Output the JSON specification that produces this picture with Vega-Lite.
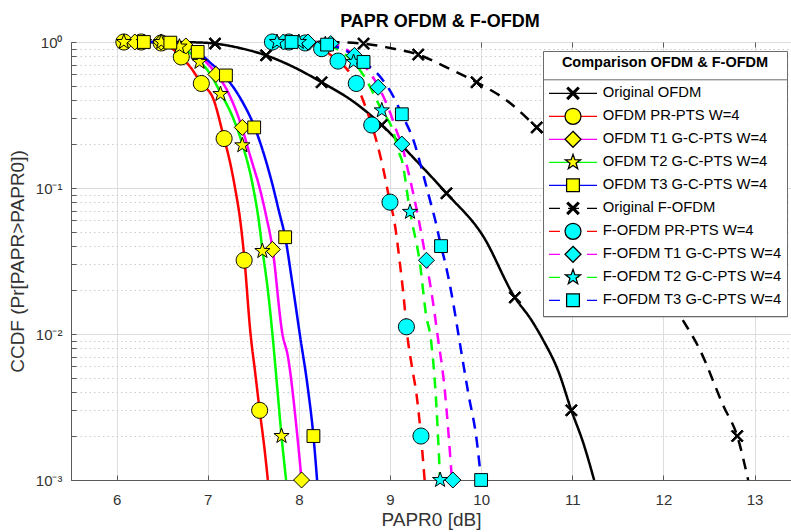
{
  "$schema": "https://vega.github.io/schema/vega-lite/v6.json",
  "width": 720,
  "height": 438,
  "autosize": {"type": "none"},
  "padding": {"left": 71, "top": 42, "right": 0, "bottom": 52},
  "background": "white",
  "config": {
    "font": "Liberation Sans",
    "view": {"stroke": "#5a5a5a", "strokeWidth": 1}
  },
  "title": {
    "text": "PAPR OFDM & F-OFDM",
    "fontSize": 18,
    "fontWeight": "bold",
    "color": "#000000",
    "offset": 1,
    "dx": 9
  },
  "datasets": {
    "lines": [
      {"s": "Original OFDM", "x": 6.05, "y": 1},
      {"s": "Original OFDM", "x": 6.6, "y": 0.999},
      {"s": "Original OFDM", "x": 6.9, "y": 0.993},
      {"s": "Original OFDM", "x": 7.08, "y": 0.975},
      {"s": "Original OFDM", "x": 7.35, "y": 0.91},
      {"s": "Original OFDM", "x": 7.64, "y": 0.81},
      {"s": "Original OFDM", "x": 7.95, "y": 0.67},
      {"s": "Original OFDM", "x": 8.25, "y": 0.53},
      {"s": "Original OFDM", "x": 8.6, "y": 0.39},
      {"s": "Original OFDM", "x": 8.91, "y": 0.27},
      {"s": "Original OFDM", "x": 9.25, "y": 0.163},
      {"s": "Original OFDM", "x": 9.62, "y": 0.092},
      {"s": "Original OFDM", "x": 10.02, "y": 0.047},
      {"s": "Original OFDM", "x": 10.37, "y": 0.0178},
      {"s": "Original OFDM", "x": 10.55, "y": 0.0125},
      {"s": "Original OFDM", "x": 10.68, "y": 0.0091},
      {"s": "Original OFDM", "x": 10.85, "y": 0.0055},
      {"s": "Original OFDM", "x": 10.99, "y": 0.003},
      {"s": "Original OFDM", "x": 11.12, "y": 0.0018},
      {"s": "Original OFDM", "x": 11.24, "y": 0.001},

      {"s": "OFDM PR-PTS W=4", "x": 6.05, "y": 1},
      {"s": "OFDM PR-PTS W=4", "x": 6.3, "y": 1},
      {"s": "OFDM PR-PTS W=4", "x": 6.49, "y": 0.985},
      {"s": "OFDM PR-PTS W=4", "x": 6.6, "y": 0.91},
      {"s": "OFDM PR-PTS W=4", "x": 6.71, "y": 0.79},
      {"s": "OFDM PR-PTS W=4", "x": 6.82, "y": 0.66},
      {"s": "OFDM PR-PTS W=4", "x": 6.93, "y": 0.52},
      {"s": "OFDM PR-PTS W=4", "x": 7.06, "y": 0.41},
      {"s": "OFDM PR-PTS W=4", "x": 7.18, "y": 0.218},
      {"s": "OFDM PR-PTS W=4", "x": 7.24, "y": 0.155},
      {"s": "OFDM PR-PTS W=4", "x": 7.3, "y": 0.1},
      {"s": "OFDM PR-PTS W=4", "x": 7.36, "y": 0.058},
      {"s": "OFDM PR-PTS W=4", "x": 7.4, "y": 0.034},
      {"s": "OFDM PR-PTS W=4", "x": 7.47, "y": 0.01},
      {"s": "OFDM PR-PTS W=4", "x": 7.52, "y": 0.0055},
      {"s": "OFDM PR-PTS W=4", "x": 7.57, "y": 0.003},
      {"s": "OFDM PR-PTS W=4", "x": 7.62, "y": 0.0017},
      {"s": "OFDM PR-PTS W=4", "x": 7.66, "y": 0.001},

      {"s": "OFDM T1 G-C-PTS W=4", "x": 6.05, "y": 1},
      {"s": "OFDM T1 G-C-PTS W=4", "x": 6.49, "y": 0.995},
      {"s": "OFDM T1 G-C-PTS W=4", "x": 6.76, "y": 0.94},
      {"s": "OFDM T1 G-C-PTS W=4", "x": 6.99, "y": 0.72},
      {"s": "OFDM T1 G-C-PTS W=4", "x": 7.09, "y": 0.61},
      {"s": "OFDM T1 G-C-PTS W=4", "x": 7.21, "y": 0.47},
      {"s": "OFDM T1 G-C-PTS W=4", "x": 7.35, "y": 0.29},
      {"s": "OFDM T1 G-C-PTS W=4", "x": 7.48, "y": 0.155},
      {"s": "OFDM T1 G-C-PTS W=4", "x": 7.57, "y": 0.1},
      {"s": "OFDM T1 G-C-PTS W=4", "x": 7.64, "y": 0.065},
      {"s": "OFDM T1 G-C-PTS W=4", "x": 7.71, "y": 0.039},
      {"s": "OFDM T1 G-C-PTS W=4", "x": 7.82, "y": 0.01},
      {"s": "OFDM T1 G-C-PTS W=4", "x": 7.88, "y": 0.007},
      {"s": "OFDM T1 G-C-PTS W=4", "x": 7.98, "y": 0.0021},
      {"s": "OFDM T1 G-C-PTS W=4", "x": 8.03, "y": 0.001},

      {"s": "OFDM T2 G-C-PTS W=4", "x": 6.05, "y": 1},
      {"s": "OFDM T2 G-C-PTS W=4", "x": 6.49, "y": 0.995},
      {"s": "OFDM T2 G-C-PTS W=4", "x": 6.69, "y": 0.93},
      {"s": "OFDM T2 G-C-PTS W=4", "x": 6.91, "y": 0.74},
      {"s": "OFDM T2 G-C-PTS W=4", "x": 7.03, "y": 0.6},
      {"s": "OFDM T2 G-C-PTS W=4", "x": 7.14, "y": 0.45},
      {"s": "OFDM T2 G-C-PTS W=4", "x": 7.28, "y": 0.3},
      {"s": "OFDM T2 G-C-PTS W=4", "x": 7.38, "y": 0.2},
      {"s": "OFDM T2 G-C-PTS W=4", "x": 7.5, "y": 0.1},
      {"s": "OFDM T2 G-C-PTS W=4", "x": 7.56, "y": 0.06},
      {"s": "OFDM T2 G-C-PTS W=4", "x": 7.6, "y": 0.038},
      {"s": "OFDM T2 G-C-PTS W=4", "x": 7.66, "y": 0.02},
      {"s": "OFDM T2 G-C-PTS W=4", "x": 7.71, "y": 0.01},
      {"s": "OFDM T2 G-C-PTS W=4", "x": 7.76, "y": 0.0045},
      {"s": "OFDM T2 G-C-PTS W=4", "x": 7.81, "y": 0.002},
      {"s": "OFDM T2 G-C-PTS W=4", "x": 7.86, "y": 0.001},

      {"s": "OFDM T3 G-C-PTS W=4", "x": 6.05, "y": 1},
      {"s": "OFDM T3 G-C-PTS W=4", "x": 6.3, "y": 1},
      {"s": "OFDM T3 G-C-PTS W=4", "x": 6.59, "y": 0.99},
      {"s": "OFDM T3 G-C-PTS W=4", "x": 6.75, "y": 0.94},
      {"s": "OFDM T3 G-C-PTS W=4", "x": 6.89, "y": 0.855},
      {"s": "OFDM T3 G-C-PTS W=4", "x": 7.03, "y": 0.72},
      {"s": "OFDM T3 G-C-PTS W=4", "x": 7.2, "y": 0.57},
      {"s": "OFDM T3 G-C-PTS W=4", "x": 7.37, "y": 0.4},
      {"s": "OFDM T3 G-C-PTS W=4", "x": 7.51, "y": 0.265},
      {"s": "OFDM T3 G-C-PTS W=4", "x": 7.63, "y": 0.16},
      {"s": "OFDM T3 G-C-PTS W=4", "x": 7.72, "y": 0.1},
      {"s": "OFDM T3 G-C-PTS W=4", "x": 7.78, "y": 0.07},
      {"s": "OFDM T3 G-C-PTS W=4", "x": 7.85, "y": 0.046},
      {"s": "OFDM T3 G-C-PTS W=4", "x": 7.93, "y": 0.022},
      {"s": "OFDM T3 G-C-PTS W=4", "x": 8.01, "y": 0.01},
      {"s": "OFDM T3 G-C-PTS W=4", "x": 8.1, "y": 0.0042},
      {"s": "OFDM T3 G-C-PTS W=4", "x": 8.16, "y": 0.002},
      {"s": "OFDM T3 G-C-PTS W=4", "x": 8.2, "y": 0.001},

      {"s": "Original F-OFDM", "x": 7.7, "y": 1},
      {"s": "Original F-OFDM", "x": 8.3, "y": 0.999},
      {"s": "Original F-OFDM", "x": 8.71, "y": 0.975},
      {"s": "Original F-OFDM", "x": 9.0, "y": 0.91},
      {"s": "Original F-OFDM", "x": 9.31, "y": 0.82},
      {"s": "Original F-OFDM", "x": 9.62, "y": 0.67},
      {"s": "Original F-OFDM", "x": 9.95, "y": 0.53},
      {"s": "Original F-OFDM", "x": 10.3, "y": 0.39},
      {"s": "Original F-OFDM", "x": 10.61, "y": 0.26},
      {"s": "Original F-OFDM", "x": 10.95, "y": 0.163},
      {"s": "Original F-OFDM", "x": 11.32, "y": 0.092},
      {"s": "Original F-OFDM", "x": 11.72, "y": 0.047},
      {"s": "Original F-OFDM", "x": 12.07, "y": 0.0178},
      {"s": "Original F-OFDM", "x": 12.18, "y": 0.0135},
      {"s": "Original F-OFDM", "x": 12.4, "y": 0.0078},
      {"s": "Original F-OFDM", "x": 12.66, "y": 0.0032},
      {"s": "Original F-OFDM", "x": 12.81, "y": 0.002},
      {"s": "Original F-OFDM", "x": 12.93, "y": 0.001},

      {"s": "F-OFDM PR-PTS W=4", "x": 7.7, "y": 1},
      {"s": "F-OFDM PR-PTS W=4", "x": 7.89, "y": 1},
      {"s": "F-OFDM PR-PTS W=4", "x": 8.07, "y": 0.985},
      {"s": "F-OFDM PR-PTS W=4", "x": 8.25, "y": 0.9},
      {"s": "F-OFDM PR-PTS W=4", "x": 8.43, "y": 0.74},
      {"s": "F-OFDM PR-PTS W=4", "x": 8.52, "y": 0.66},
      {"s": "F-OFDM PR-PTS W=4", "x": 8.63, "y": 0.52},
      {"s": "F-OFDM PR-PTS W=4", "x": 8.71, "y": 0.39},
      {"s": "F-OFDM PR-PTS W=4", "x": 8.8, "y": 0.27},
      {"s": "F-OFDM PR-PTS W=4", "x": 8.87, "y": 0.19},
      {"s": "F-OFDM PR-PTS W=4", "x": 8.93, "y": 0.132},
      {"s": "F-OFDM PR-PTS W=4", "x": 9.0, "y": 0.08},
      {"s": "F-OFDM PR-PTS W=4", "x": 9.04, "y": 0.063},
      {"s": "F-OFDM PR-PTS W=4", "x": 9.11, "y": 0.03},
      {"s": "F-OFDM PR-PTS W=4", "x": 9.16, "y": 0.0155},
      {"s": "F-OFDM PR-PTS W=4", "x": 9.18, "y": 0.0112},
      {"s": "F-OFDM PR-PTS W=4", "x": 9.24, "y": 0.006},
      {"s": "F-OFDM PR-PTS W=4", "x": 9.29, "y": 0.0039},
      {"s": "F-OFDM PR-PTS W=4", "x": 9.34, "y": 0.002},
      {"s": "F-OFDM PR-PTS W=4", "x": 9.38, "y": 0.001},

      {"s": "F-OFDM T1 G-C-PTS W=4", "x": 7.7, "y": 1},
      {"s": "F-OFDM T1 G-C-PTS W=4", "x": 8.1, "y": 1},
      {"s": "F-OFDM T1 G-C-PTS W=4", "x": 8.35, "y": 0.975},
      {"s": "F-OFDM T1 G-C-PTS W=4", "x": 8.61, "y": 0.81},
      {"s": "F-OFDM T1 G-C-PTS W=4", "x": 8.75, "y": 0.65},
      {"s": "F-OFDM T1 G-C-PTS W=4", "x": 8.87, "y": 0.5},
      {"s": "F-OFDM T1 G-C-PTS W=4", "x": 8.93, "y": 0.42},
      {"s": "F-OFDM T1 G-C-PTS W=4", "x": 9.0, "y": 0.33},
      {"s": "F-OFDM T1 G-C-PTS W=4", "x": 9.09, "y": 0.23},
      {"s": "F-OFDM T1 G-C-PTS W=4", "x": 9.13, "y": 0.2},
      {"s": "F-OFDM T1 G-C-PTS W=4", "x": 9.18, "y": 0.147},
      {"s": "F-OFDM T1 G-C-PTS W=4", "x": 9.25, "y": 0.095},
      {"s": "F-OFDM T1 G-C-PTS W=4", "x": 9.31, "y": 0.063},
      {"s": "F-OFDM T1 G-C-PTS W=4", "x": 9.4, "y": 0.031},
      {"s": "F-OFDM T1 G-C-PTS W=4", "x": 9.49, "y": 0.0138},
      {"s": "F-OFDM T1 G-C-PTS W=4", "x": 9.52, "y": 0.01},
      {"s": "F-OFDM T1 G-C-PTS W=4", "x": 9.6, "y": 0.0042},
      {"s": "F-OFDM T1 G-C-PTS W=4", "x": 9.68, "y": 0.001},

      {"s": "F-OFDM T2 G-C-PTS W=4", "x": 7.7, "y": 1},
      {"s": "F-OFDM T2 G-C-PTS W=4", "x": 8.0, "y": 1},
      {"s": "F-OFDM T2 G-C-PTS W=4", "x": 8.29, "y": 0.965},
      {"s": "F-OFDM T2 G-C-PTS W=4", "x": 8.45, "y": 0.87},
      {"s": "F-OFDM T2 G-C-PTS W=4", "x": 8.6, "y": 0.73},
      {"s": "F-OFDM T2 G-C-PTS W=4", "x": 8.74, "y": 0.55},
      {"s": "F-OFDM T2 G-C-PTS W=4", "x": 8.91, "y": 0.34},
      {"s": "F-OFDM T2 G-C-PTS W=4", "x": 9.04, "y": 0.24},
      {"s": "F-OFDM T2 G-C-PTS W=4", "x": 9.09, "y": 0.18},
      {"s": "F-OFDM T2 G-C-PTS W=4", "x": 9.13, "y": 0.155},
      {"s": "F-OFDM T2 G-C-PTS W=4", "x": 9.22, "y": 0.0686},
      {"s": "F-OFDM T2 G-C-PTS W=4", "x": 9.33, "y": 0.03},
      {"s": "F-OFDM T2 G-C-PTS W=4", "x": 9.4, "y": 0.013},
      {"s": "F-OFDM T2 G-C-PTS W=4", "x": 9.44, "y": 0.01},
      {"s": "F-OFDM T2 G-C-PTS W=4", "x": 9.5, "y": 0.004},
      {"s": "F-OFDM T2 G-C-PTS W=4", "x": 9.55, "y": 0.001},

      {"s": "F-OFDM T3 G-C-PTS W=4", "x": 7.7, "y": 1},
      {"s": "F-OFDM T3 G-C-PTS W=4", "x": 7.92, "y": 1},
      {"s": "F-OFDM T3 G-C-PTS W=4", "x": 8.31, "y": 0.96},
      {"s": "F-OFDM T3 G-C-PTS W=4", "x": 8.55, "y": 0.85},
      {"s": "F-OFDM T3 G-C-PTS W=4", "x": 8.71, "y": 0.73},
      {"s": "F-OFDM T3 G-C-PTS W=4", "x": 8.91, "y": 0.56},
      {"s": "F-OFDM T3 G-C-PTS W=4", "x": 9.04, "y": 0.42},
      {"s": "F-OFDM T3 G-C-PTS W=4", "x": 9.13, "y": 0.32},
      {"s": "F-OFDM T3 G-C-PTS W=4", "x": 9.26, "y": 0.21},
      {"s": "F-OFDM T3 G-C-PTS W=4", "x": 9.37, "y": 0.12},
      {"s": "F-OFDM T3 G-C-PTS W=4", "x": 9.44, "y": 0.082},
      {"s": "F-OFDM T3 G-C-PTS W=4", "x": 9.5, "y": 0.059},
      {"s": "F-OFDM T3 G-C-PTS W=4", "x": 9.56, "y": 0.04},
      {"s": "F-OFDM T3 G-C-PTS W=4", "x": 9.61, "y": 0.03},
      {"s": "F-OFDM T3 G-C-PTS W=4", "x": 9.7, "y": 0.0155},
      {"s": "F-OFDM T3 G-C-PTS W=4", "x": 9.75, "y": 0.01},
      {"s": "F-OFDM T3 G-C-PTS W=4", "x": 9.86, "y": 0.0039},
      {"s": "F-OFDM T3 G-C-PTS W=4", "x": 9.95, "y": 0.0019},
      {"s": "F-OFDM T3 G-C-PTS W=4", "x": 10.0, "y": 0.001}
    ],
    "marks": [
      {"s": "Original OFDM", "k": 0, "x": 7.08, "y": 0.975},
      {"s": "Original OFDM", "k": 0, "x": 7.64, "y": 0.81},
      {"s": "Original OFDM", "k": 0, "x": 8.25, "y": 0.53},
      {"s": "Original OFDM", "k": 0, "x": 8.91, "y": 0.27},
      {"s": "Original OFDM", "k": 0, "x": 9.62, "y": 0.092},
      {"s": "Original OFDM", "k": 0, "x": 10.37, "y": 0.0178},
      {"s": "Original OFDM", "k": 0, "x": 10.99, "y": 0.003},

      {"s": "OFDM PR-PTS W=4", "k": 1, "x": 6.08, "y": 1},
      {"s": "OFDM PR-PTS W=4", "k": 1, "x": 6.27, "y": 1},
      {"s": "OFDM PR-PTS W=4", "k": 1, "x": 6.49, "y": 0.985},
      {"s": "OFDM PR-PTS W=4", "k": 1, "x": 6.71, "y": 0.79},
      {"s": "OFDM PR-PTS W=4", "k": 1, "x": 6.93, "y": 0.52},
      {"s": "OFDM PR-PTS W=4", "k": 1, "x": 7.18, "y": 0.218},
      {"s": "OFDM PR-PTS W=4", "k": 1, "x": 7.4, "y": 0.032},
      {"s": "OFDM PR-PTS W=4", "k": 1, "x": 7.57, "y": 0.003},

      {"s": "OFDM T1 G-C-PTS W=4", "k": 2, "x": 6.2, "y": 1},
      {"s": "OFDM T1 G-C-PTS W=4", "k": 2, "x": 6.49, "y": 1},
      {"s": "OFDM T1 G-C-PTS W=4", "k": 2, "x": 6.76, "y": 0.94},
      {"s": "OFDM T1 G-C-PTS W=4", "k": 2, "x": 7.09, "y": 0.6},
      {"s": "OFDM T1 G-C-PTS W=4", "k": 2, "x": 7.38, "y": 0.26},
      {"s": "OFDM T1 G-C-PTS W=4", "k": 2, "x": 7.71, "y": 0.038},
      {"s": "OFDM T1 G-C-PTS W=4", "k": 2, "x": 8.03, "y": 0.001},

      {"s": "OFDM T2 G-C-PTS W=4", "k": 3, "x": 6.08, "y": 1},
      {"s": "OFDM T2 G-C-PTS W=4", "k": 3, "x": 6.3, "y": 1},
      {"s": "OFDM T2 G-C-PTS W=4", "k": 3, "x": 6.49, "y": 1},
      {"s": "OFDM T2 G-C-PTS W=4", "k": 3, "x": 6.69, "y": 0.93},
      {"s": "OFDM T2 G-C-PTS W=4", "k": 3, "x": 6.91, "y": 0.73},
      {"s": "OFDM T2 G-C-PTS W=4", "k": 3, "x": 7.14, "y": 0.44},
      {"s": "OFDM T2 G-C-PTS W=4", "k": 3, "x": 7.38, "y": 0.196},
      {"s": "OFDM T2 G-C-PTS W=4", "k": 3, "x": 7.6, "y": 0.037},
      {"s": "OFDM T2 G-C-PTS W=4", "k": 3, "x": 7.81, "y": 0.002},

      {"s": "OFDM T3 G-C-PTS W=4", "k": 4, "x": 6.3, "y": 1},
      {"s": "OFDM T3 G-C-PTS W=4", "k": 4, "x": 6.59, "y": 0.99},
      {"s": "OFDM T3 G-C-PTS W=4", "k": 4, "x": 6.89, "y": 0.855},
      {"s": "OFDM T3 G-C-PTS W=4", "k": 4, "x": 7.2, "y": 0.59},
      {"s": "OFDM T3 G-C-PTS W=4", "k": 4, "x": 7.51, "y": 0.26},
      {"s": "OFDM T3 G-C-PTS W=4", "k": 4, "x": 7.85, "y": 0.046},
      {"s": "OFDM T3 G-C-PTS W=4", "k": 4, "x": 8.16, "y": 0.002},

      {"s": "Original F-OFDM", "k": 5, "x": 8.71, "y": 0.975},
      {"s": "Original F-OFDM", "k": 5, "x": 9.31, "y": 0.82},
      {"s": "Original F-OFDM", "k": 5, "x": 9.95, "y": 0.53},
      {"s": "Original F-OFDM", "k": 5, "x": 10.61, "y": 0.26},
      {"s": "Original F-OFDM", "k": 5, "x": 11.32, "y": 0.092},
      {"s": "Original F-OFDM", "k": 5, "x": 12.07, "y": 0.0178},
      {"s": "Original F-OFDM", "k": 5, "x": 12.81, "y": 0.002},

      {"s": "F-OFDM PR-PTS W=4", "k": 6, "x": 7.71, "y": 1},
      {"s": "F-OFDM PR-PTS W=4", "k": 6, "x": 7.89, "y": 1},
      {"s": "F-OFDM PR-PTS W=4", "k": 6, "x": 8.07, "y": 0.985},
      {"s": "F-OFDM PR-PTS W=4", "k": 6, "x": 8.25, "y": 0.9},
      {"s": "F-OFDM PR-PTS W=4", "k": 6, "x": 8.43, "y": 0.74},
      {"s": "F-OFDM PR-PTS W=4", "k": 6, "x": 8.63, "y": 0.52},
      {"s": "F-OFDM PR-PTS W=4", "k": 6, "x": 8.8, "y": 0.27},
      {"s": "F-OFDM PR-PTS W=4", "k": 6, "x": 9.0, "y": 0.08},
      {"s": "F-OFDM PR-PTS W=4", "k": 6, "x": 9.18, "y": 0.0112},
      {"s": "F-OFDM PR-PTS W=4", "k": 6, "x": 9.34, "y": 0.002},

      {"s": "F-OFDM T1 G-C-PTS W=4", "k": 7, "x": 7.83, "y": 1},
      {"s": "F-OFDM T1 G-C-PTS W=4", "k": 7, "x": 8.1, "y": 1},
      {"s": "F-OFDM T1 G-C-PTS W=4", "k": 7, "x": 8.35, "y": 0.975},
      {"s": "F-OFDM T1 G-C-PTS W=4", "k": 7, "x": 8.61, "y": 0.81},
      {"s": "F-OFDM T1 G-C-PTS W=4", "k": 7, "x": 8.87, "y": 0.49},
      {"s": "F-OFDM T1 G-C-PTS W=4", "k": 7, "x": 9.13, "y": 0.2},
      {"s": "F-OFDM T1 G-C-PTS W=4", "k": 7, "x": 9.4, "y": 0.032},
      {"s": "F-OFDM T1 G-C-PTS W=4", "k": 7, "x": 9.69, "y": 0.001},

      {"s": "F-OFDM T2 G-C-PTS W=4", "k": 8, "x": 7.76, "y": 1},
      {"s": "F-OFDM T2 G-C-PTS W=4", "k": 8, "x": 8.0, "y": 1},
      {"s": "F-OFDM T2 G-C-PTS W=4", "k": 8, "x": 8.29, "y": 0.965},
      {"s": "F-OFDM T2 G-C-PTS W=4", "k": 8, "x": 8.6, "y": 0.73},
      {"s": "F-OFDM T2 G-C-PTS W=4", "k": 8, "x": 8.91, "y": 0.34},
      {"s": "F-OFDM T2 G-C-PTS W=4", "k": 8, "x": 9.22, "y": 0.0686},
      {"s": "F-OFDM T2 G-C-PTS W=4", "k": 8, "x": 9.55, "y": 0.001},

      {"s": "F-OFDM T3 G-C-PTS W=4", "k": 9, "x": 7.92, "y": 1},
      {"s": "F-OFDM T3 G-C-PTS W=4", "k": 9, "x": 8.31, "y": 0.96},
      {"s": "F-OFDM T3 G-C-PTS W=4", "k": 9, "x": 8.71, "y": 0.73},
      {"s": "F-OFDM T3 G-C-PTS W=4", "k": 9, "x": 9.13, "y": 0.32},
      {"s": "F-OFDM T3 G-C-PTS W=4", "k": 9, "x": 9.56, "y": 0.04},
      {"s": "F-OFDM T3 G-C-PTS W=4", "k": 9, "x": 10.0, "y": 0.001}
    ]
  },
  "layer": [
    {
      "data": {"name": "lines"},
      "mark": {"type": "line", "strokeWidth": 2.5, "interpolate": "monotone"},
      "encoding": {
        "x": {
          "field": "x",
          "type": "quantitative",
          "scale": {"domain": [5.5, 13.4], "nice": false, "zero": false},
          "axis": {
            "values": [6, 7, 8, 9, 10, 11, 12, 13],
            "format": "d",
            "grid": true,
            "gridColor": "#dedede",
            "tickSize": -5,
            "tickColor": "#5a5a5a",
            "domainColor": "#5a5a5a",
            "labelFontSize": 15,
            "labelColor": "#333333",
            "labelPadding": 17,
            "title": "PAPR0 [dB]",
            "titleFontSize": 19,
            "titleFontWeight": "normal",
            "titleColor": "#333333",
            "titlePadding": 3
          }
        },
        "y": {
          "field": "y",
          "type": "quantitative",
          "scale": {"type": "log", "domain": [0.001, 1], "nice": false},
          "axis": {
            "values": [0.001, 0.002, 0.003, 0.004, 0.005, 0.006, 0.007, 0.008, 0.009, 0.01, 0.02, 0.03, 0.04, 0.05, 0.06, 0.07, 0.08, 0.09, 0.1, 0.2, 0.3, 0.4, 0.5, 0.6, 0.7, 0.8, 0.9, 1],
            "labelExpr": "datum.value === 1 ? '10⁰' : datum.value === 0.1 ? '10⁻¹' : datum.value === 0.01 ? '10⁻²' : datum.value === 0.001 ? '10⁻³' : ''",
            "labelOverlap": false,
            "labelBound": false,
            "labelFontSize": 15,
            "labelColor": "#333333",
            "labelPadding": 14,
            "grid": true,
            "gridColor": {"condition": {"test": "datum.value === 1 || datum.value === 0.1 || datum.value === 0.01 || datum.value === 0.001", "value": "#dcdcdc"}, "value": "#cccccc"},
            "gridDash": {"condition": {"test": "datum.value === 1 || datum.value === 0.1 || datum.value === 0.01 || datum.value === 0.001", "value": []}, "value": [1.5, 3]},
            "tickSize": -5,
            "tickColor": "#5a5a5a",
            "domainColor": "#5a5a5a",
            "title": "CCDF (Pr[PAPR>PAPR0])",
            "titleFontSize": 19,
            "titleFontWeight": "normal",
            "titleColor": "#333333",
            "titlePadding": 8
          }
        },
        "stroke": {
          "field": "s",
          "type": "nominal",
          "scale": {
            "domain": ["Original OFDM", "OFDM PR-PTS W=4", "OFDM T1 G-C-PTS W=4", "OFDM T2 G-C-PTS W=4", "OFDM T3 G-C-PTS W=4", "Original F-OFDM", "F-OFDM PR-PTS W=4", "F-OFDM T1 G-C-PTS W=4", "F-OFDM T2 G-C-PTS W=4", "F-OFDM T3 G-C-PTS W=4"],
            "range": ["#000000", "#ff0000", "#ff00ff", "#00ff00", "#0000ff", "#000000", "#ff0000", "#ff00ff", "#00ff00", "#0000ff"]
          },
          "legend": {
            "orient": "none",
            "legendX": 472,
            "legendY": 9,
            "title": "Comparison OFDM & F-OFDM",
            "titleFontSize": 14.5,
            "titleFontWeight": "bold",
            "titleColor": "#000000",
            "titleAnchor": "middle",
            "titleLimit": 400,
            "titlePadding": 13.8,
            "symbolType": "M-3,0L-3,0M3,0L3,0M0,-1L0,-1M0,1L0,1M-3,0H3",
            "symbolSize": 256,
            "symbolOffset": 16,
            "symbolStrokeWidth": 1.25,
            "labelFontSize": 14.8,
            "labelColor": "#000000",
            "labelOffset": 20.7,
            "labelLimit": 300,
            "rowPadding": 1.0,
            "padding": 5,
            "strokeColor": "#6b6b6b",
            "fillColor": "#ffffff",
            "symbolLimit": 0
          }
        },
        "strokeDash": {
          "field": "s",
          "type": "nominal",
          "scale": {
            "domain": ["Original OFDM", "OFDM PR-PTS W=4", "OFDM T1 G-C-PTS W=4", "OFDM T2 G-C-PTS W=4", "OFDM T3 G-C-PTS W=4", "Original F-OFDM", "F-OFDM PR-PTS W=4", "F-OFDM T1 G-C-PTS W=4", "F-OFDM T2 G-C-PTS W=4", "F-OFDM T3 G-C-PTS W=4"],
            "range": [[1, 0], [1, 0], [1, 0], [1, 0], [1, 0], [11, 8], [11, 8], [11, 8], [11, 8], [11, 8]]
          },
          "legend": {
            "orient": "none",
            "legendX": 472,
            "legendY": 9,
            "title": "Comparison OFDM & F-OFDM",
            "symbolType": "M-3,0L-3,0M3,0L3,0M0,-1L0,-1M0,1L0,1M-3,0H3",
            "symbolSize": 256
          }
        }
      }
    },
    {
      "data": {"name": "marks"},
      "mark": {"type": "point", "filled": true, "size": 256, "stroke": "#000000", "strokeWidth": 1, "opacity": 1},
      "encoding": {
        "x": {
          "field": "x",
          "type": "quantitative",
          "axis": {
            "orient": "top",
            "values": [6, 7, 8, 9, 10, 11, 12, 13],
            "labels": false,
            "domain": false,
            "grid": false,
            "tickSize": -5,
            "tickColor": "#5a5a5a",
            "title": null
          }
        },
        "y": {"field": "y", "type": "quantitative"},
        "fill": {
          "field": "s",
          "type": "nominal",
          "sort": {"field": "k", "op": "min"},
          "scale": {"range": ["#000000", "#ffff00", "#ffff00", "#ffff00", "#ffff00", "#000000", "#00ffff", "#00ffff", "#00ffff", "#00ffff"]},
          "legend": {
            "orient": "none",
            "legendX": 472,
            "legendY": 37.3,
            "title": null,
            "symbolSize": 256,
            "symbolOffset": 16,
            "symbolStrokeColor": "#000000",
            "symbolStrokeWidth": 1.25,
            "symbolOpacity": 1,
            "labelFontSize": 14.8,
            "labelColor": "rgba(0,0,0,0)",
            "labelOffset": 20.7,
            "labelLimit": 300,
            "rowPadding": 1.0,
            "padding": 5,
            "strokeColor": "#6b6b6b",
            "symbolLimit": 0
          }
        },
        "shape": {
          "field": "s",
          "type": "nominal",
          "sort": {"field": "k", "op": "min"},
          "scale": {
            "range": [
              "M-3,0L-3,0M3,0L3,0M0,-1L0,-1M0,1L0,1M-0.75,-0.59L-0.59,-0.75L0,-0.16L0.59,-0.75L0.75,-0.59L0.16,0L0.75,0.59L0.59,0.75L0,0.16L-0.59,0.75L-0.75,0.59L-0.16,0Z",
              "M-3,0L-3,0M3,0L3,0M0,-1L0,-1M0,1L0,1M1,0A1,1,0,1,1,-1,0A1,1,0,1,1,1,0Z",
              "M-3,0L-3,0M3,0L3,0M0,-1L0,-1M0,1L0,1M0,-1L1,0L0,1L-1,0Z",
              "M-3,0L-3,0M3,0L3,0M0,-1L0,-1M0,1L0,1M0,-1L0.235,-0.324L0.951,-0.309L0.38,0.124L0.588,0.809L0,0.4L-0.588,0.809L-0.38,0.124L-0.951,-0.309L-0.235,-0.324Z",
              "M-3,0L-3,0M3,0L3,0M0,-1L0,-1M0,1L0,1M-0.8,-0.8H0.8V0.8H-0.8Z",
              "M-3,0L-3,0M3,0L3,0M0,-1L0,-1M0,1L0,1M-0.75,-0.59L-0.59,-0.75L0,-0.16L0.59,-0.75L0.75,-0.59L0.16,0L0.75,0.59L0.59,0.75L0,0.16L-0.59,0.75L-0.75,0.59L-0.16,0Z",
              "M-3,0L-3,0M3,0L3,0M0,-1L0,-1M0,1L0,1M1,0A1,1,0,1,1,-1,0A1,1,0,1,1,1,0Z",
              "M-3,0L-3,0M3,0L3,0M0,-1L0,-1M0,1L0,1M0,-1L1,0L0,1L-1,0Z",
              "M-3,0L-3,0M3,0L3,0M0,-1L0,-1M0,1L0,1M0,-1L0.235,-0.324L0.951,-0.309L0.38,0.124L0.588,0.809L0,0.4L-0.588,0.809L-0.38,0.124L-0.951,-0.309L-0.235,-0.324Z",
              "M-3,0L-3,0M3,0L3,0M0,-1L0,-1M0,1L0,1M-0.8,-0.8H0.8V0.8H-0.8Z"
            ]
          },
          "legend": {
            "orient": "none",
            "legendX": 472,
            "legendY": 37.3,
            "title": null,
            "symbolSize": 256
          }
        }
      }
    }
  ],
  "resolve": {"axis": {"x": "independent"}}
}
